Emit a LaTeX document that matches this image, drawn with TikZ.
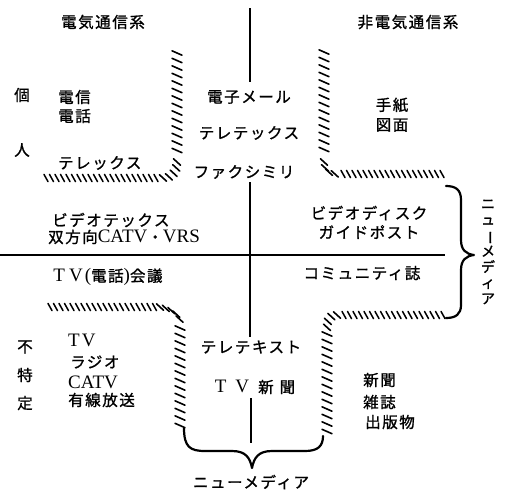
\documentclass[tikz,border=0pt]{standalone}
\usepackage{fontspec}
\setmainfont{Liberation Serif}
\newfontfamily\jp[LetterSpace=10,FakeBold=1.2]{Noto Sans CJK JP}
\usetikzlibrary{decorations.markings}
\newcommand\lat[1]{{\rmfamily\fontsize{19}{19}\selectfont #1}}
\begin{document}
\begin{tikzpicture}[x=1pt,y=-1pt,
  lab/.style={inner sep=0pt, font=\jp\fontsize{15.5}{19}\selectfont},
  axis/.style={line width=1.4pt},
  brace/.style={line width=2.2pt, line cap=round, line join=round},
  hatchV/.style={decorate, decoration={markings, mark=between positions 0 and 1 step 7.5pt with {\pgftransformresetnontranslations\draw[line width=1.6pt, line cap=round] (-5pt,2.2pt) -- (5pt,-2.2pt);}}},
  hatchH/.style={decorate, decoration={markings, mark=between positions 0 and 1 step 5.5pt with {\pgftransformresetnontranslations\draw[line width=1.5pt, line cap=round] (-2pt,3.6pt) -- (2pt,-3.6pt);}}},
  hatchC/.style={decorate, decoration={markings, mark=between positions 0 and 1 step 6pt with {\pgftransformresetnontranslations\draw[line width=1.6pt, line cap=round] (-3.5pt,3.2pt) -- (3.5pt,-3.2pt);}}}
]
\useasboundingbox (0,0) rectangle (505,493);

% axes
\coordinate (v1) at (250,8);
\coordinate (v2) at (250,82);
\coordinate (v3) at (250,182);
\coordinate (v4) at (250,337);
\coordinate (v5) at (251,398);
\coordinate (v6) at (251,443);
\coordinate (h1) at (0,255);
\coordinate (h2) at (445,255);
\draw[axis] (v1) -- (v2);
\draw[axis] (v3) -- (v4);
\draw[axis] (v5) -- (v6);
\draw[line width=1.2pt] (h1) -- (h2);

% hatched boundaries
\path[hatchV] (177,53) -- (177,156);
\path[hatchC] (177,162) .. controls (177,172) and (172,178) .. (162,178);
\path[hatchH] (156,178) -- (45,178);

\path[hatchV] (324,52) -- (324,156);
\path[hatchC] (324,162) .. controls (324,170) and (328,174) .. (338,174);
\path[hatchH] (343,174) -- (444,174);

\path[hatchH] (443,315) -- (342,315);
\path[hatchC] (337,315) .. controls (330,315) and (327,320) .. (327,328);
\path[hatchV] (327,334) -- (327,432);

\path[hatchH] (50,307) -- (155,307);
\path[hatchC] (160,307) .. controls (172,309) and (180,315) .. (180,322);
\path[hatchV] (180,328) -- (180,428);

% braces
\draw[brace] (184,428) .. controls (184,447) and (190,451) .. (205,451) -- (232,451)
  .. controls (246,451) and (250,458) .. (252,468)
  .. controls (254,458) and (258,451) .. (272,451) -- (305,451)
  .. controls (318,451) and (323,446) .. (323,436);
\draw[brace] (446,186) .. controls (456,186) and (461,190) .. (461,200) -- (461,240)
  .. controls (461,250) and (466,254) .. (474,255)
  .. controls (466,256) and (461,260) .. (461,270) -- (461,305)
  .. controls (461,314) and (456,318) .. (446,318);

% labels
\node[lab] (elec) at (103,22) {電気通信系};
\node[lab] (nonelec) at (408,22) {非電気通信系};
\node[lab] (ko) at (22,95) {個};
\node[lab] (nin) at (22,150) {人};
\node[lab, anchor=west] (denshin) at (58,97) {電信};
\node[lab, anchor=west] (denwa) at (58,116) {電話};
\node[lab, anchor=west] (telex) at (58,163) {テレックス};
\node[lab] (email) at (249,97) {電子メール};
\node[lab] (teletex) at (249,133) {テレテックス};
\node[lab] (fax) at (244,172) {ファクシミリ};
\node[lab] (tegami) at (392,105) {手紙};
\node[lab] (zumen) at (392,125) {図面};
\node[lab, anchor=west] (videotex) at (52,220) {ビデオテックス};
\node[lab, anchor=west] (catvvrs) at (48,237) {双方向\lat{CATV}・\lat{VRS}};
\node[lab] (vdisk) at (369,213) {ビデオディスク};
\node[lab] (guide) at (369,232) {ガイドポスト};
\node[lab] (tvconf) at (108,277) {\lat{T\hspace{4pt}V\hspace{2pt}(}電話\lat{)}会議};
\node[lab] (comm) at (362,273) {コミュニティ誌};
\node[lab] (fu) at (25,347) {不};
\node[lab] (toku) at (25,375) {特};
\node[lab] (tei) at (25,403) {定};
\node[lab, anchor=west] (tv) at (68,340) {\lat{T\hspace{2pt}V}};
\node[lab, anchor=west] (radio) at (70,362) {ラジオ};
\node[lab, anchor=west] (catv) at (68,382) {\lat{CATV}};
\node[lab, anchor=west] (yusen) at (68,400) {有線放送};
\node[lab] (teletext) at (251,347) {テレテキスト};
\node[lab] (tvnews) at (255,387) {\lat{T\hspace{9pt}V}\hspace{9pt}新\hspace{6pt}聞};
\node[lab, anchor=west] (shinbun) at (363,380) {新聞};
\node[lab, anchor=west] (zasshi) at (363,402) {雑誌};
\node[lab, anchor=west] (shuppan) at (365,422) {出版物};
\node[lab] (nmB) at (251,482) {ニューメディア};
\node[inner sep=0pt, align=center, font=\jp\fontsize{14}{15.8}\selectfont] (nmR) at (488,252)
  {ニ\\ュ\\\rotatebox[origin=c]{-90}{ー}\\メ\\デ\\ィ\\ア};
\end{tikzpicture}
\end{document}
